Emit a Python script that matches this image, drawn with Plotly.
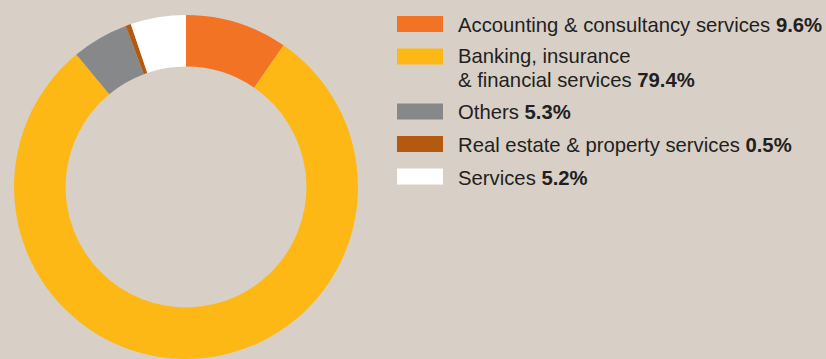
import plotly.graph_objects as go

# Sector breakdown (per cent), clockwise from 12 o'clock
labels = [
    "Accounting & consultancy services",
    "Banking, insurance<br>& financial services",
    "Others",
    "Real estate & property services",
    "Services",
]
values = [9.6, 79.4, 5.3, 0.5, 5.2]
colors = ["#F37324", "#FDB815", "#87888A", "#B35A10", "#FFFFFF"]

W, H = 826, 359
BG = "#D8D0C7"
TEXT = "#231F20"
FONT = "Liberation Sans, Arial, sans-serif"

fig = go.Figure()
fig.add_trace(go.Pie(
    labels=[l.replace("<br>", " ") for l in labels],
    values=values,
    marker=dict(colors=colors, line=dict(width=0)),
    hole=0.70,
    sort=False,
    direction="clockwise",
    rotation=0,
    textinfo="none",
    hoverinfo="label+percent",
    showlegend=False,
    domain=dict(x=[14 / W, 358 / W], y=[0, 1 - 15 / H]),
))

# Hand-built legend: wide swatches with label text and bold share
shapes, annotations = [], []
sw_x0, sw_x1, sw_h = 397, 443, 16
text_x = 457
line_gap = 20
row_pitch = 32.5
y = 24.0
for lab, val, col in zip(labels, values, colors):
    shapes.append(dict(
        type="rect", xref="paper", yref="paper",
        x0=sw_x0 / W, x1=sw_x1 / W,
        y0=1 - (y + sw_h / 2) / H, y1=1 - (y - sw_h / 2) / H,
        fillcolor=col, line=dict(width=0), layer="above",
    ))
    lines = lab.split("<br>")
    n = len(lines)
    for k, ln in enumerate(lines):
        txt = f"{ln} <b>{val}%</b>" if k == n - 1 else ln
        if n == 1:
            ya, yy = "middle", y + 1
        else:
            # stacked lines meet at the midpoint between their centres
            mid = y + 1 + line_gap / 2
            ya, yy = ("bottom", mid) if k == 0 else ("top", mid)
        annotations.append(dict(
            xref="paper", yref="paper",
            x=text_x / W, y=1 - yy / H,
            xanchor="left", yanchor=ya, borderpad=0,
            text=txt, showarrow=False,
            font=dict(family=FONT, size=20.3, color=TEXT),
        ))
    y += row_pitch + (n - 1) * 22.5

fig.update_layout(
    width=W, height=H,
    margin=dict(l=0, r=0, t=0, b=0),
    paper_bgcolor=BG, plot_bgcolor=BG,
    shapes=shapes, annotations=annotations,
)

fig.write_html("out.html")
